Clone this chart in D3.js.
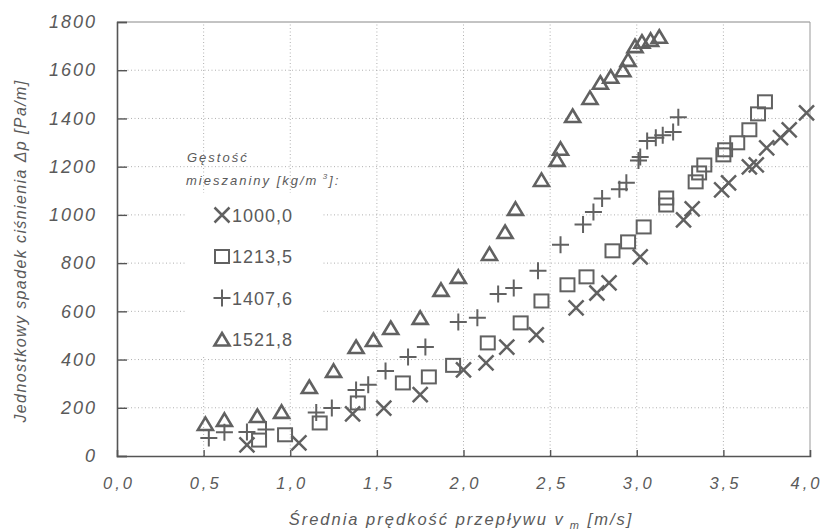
<!DOCTYPE html>
<html>
<head>
<meta charset="utf-8">
<script src="https://cdn.jsdelivr.net/npm/d3@7"></script>
<style>
  html, body { margin: 0; padding: 0; background: #fff; }
  svg { display: block; }
  text { font-family: "Liberation Sans", Arial, sans-serif; fill: #5a5a5a; }
</style>
</head>
<body>
<svg id="chart" width="826" height="532"></svg>
<script>
// Pressure gradient [Pa/m] against mean mixture velocity [m/s], one series per mixture density
const densityLabels = ["1000,0", "1213,5", "1407,6", "1521,8"];
const markerKinds   = ["cross", "square", "plus", "triangle"];

const rho1000 = [
  [0.75, 46], [1.05, 54], [1.36, 175], [1.54, 199], [1.75, 255], [2.00, 357],
  [2.13, 386], [2.25, 452], [2.42, 502], [2.65, 614], [2.77, 676], [2.84, 718],
  [3.02, 826], [3.27, 979], [3.32, 1025], [3.49, 1104], [3.53, 1133], [3.65, 1199],
  [3.69, 1207], [3.75, 1278], [3.83, 1320], [3.88, 1353], [3.98, 1423]
];
const rho1213 = [
  [0.82, 66], [0.97, 88], [1.17, 137], [1.39, 220], [1.65, 303], [1.80, 328],
  [1.94, 376], [2.14, 469], [2.33, 552], [2.45, 643], [2.60, 710], [2.71, 743],
  [2.86, 851], [2.95, 888], [3.04, 950], [3.17, 1041], [3.17, 1070], [3.34, 1137],
  [3.36, 1174], [3.39, 1207], [3.50, 1249], [3.51, 1270], [3.58, 1299], [3.65, 1353],
  [3.70, 1419], [3.74, 1469]
];
const rho1407 = [
  [0.53, 75], [0.62, 98], [0.75, 100], [0.86, 110], [1.15, 180], [1.24, 199],
  [1.38, 274], [1.45, 295], [1.55, 353], [1.68, 411], [1.78, 452], [1.97, 556],
  [2.08, 573], [2.20, 672], [2.29, 697], [2.43, 768], [2.56, 876], [2.69, 960],
  [2.75, 1012], [2.80, 1068], [2.90, 1106], [2.94, 1133], [3.01, 1226], [3.02, 1240],
  [3.06, 1306], [3.11, 1320], [3.15, 1330], [3.21, 1344], [3.24, 1405]
];
const rho1521 = [
  [0.51, 133], [0.62, 150], [0.81, 166], [0.95, 183], [1.11, 286], [1.25, 353],
  [1.38, 452], [1.48, 481], [1.58, 531], [1.75, 573], [1.87, 689], [1.97, 743],
  [2.15, 838], [2.24, 929], [2.30, 1025], [2.45, 1145], [2.54, 1228], [2.56, 1274],
  [2.63, 1410], [2.73, 1485], [2.79, 1548], [2.85, 1573], [2.92, 1600], [2.95, 1643],
  [2.99, 1700], [3.03, 1718], [3.08, 1726], [3.13, 1739]
];
const seriesValues = [rho1000, rho1213, rho1407, rho1521];

const xTickValues = [0, 0.5, 1, 1.5, 2, 2.5, 3, 3.5, 4];
const yTickValues = [0, 200, 400, 600, 800, 1000, 1200, 1400, 1600, 1800];

const svg = d3.select("#chart");
const margin = { left: 117, right: 16, top: 22, bottom: 76 };
const W = 826, H = 532;
const x = d3.scaleLinear().domain([0, 4]).range([margin.left, W - margin.right]);
const y = d3.scaleLinear().domain([0, 1800]).range([H - margin.bottom, margin.top]);

const ink = "#616161";
const fmt = d => d3.format(".1f")(d).replace(".", ",");

// dotted grid
const grid = svg.append("g");
grid.selectAll("line.v").data(xTickValues.slice(1, -1)).join("line")
  .attr("x1", d => x(d)).attr("x2", d => x(d))
  .attr("y1", y(0)).attr("y2", y(1800))
  .attr("stroke", "#b0b0b0").attr("stroke-width", 1).attr("stroke-dasharray", "1,2.5");
grid.selectAll("line.h").data(yTickValues.slice(1, -1)).join("line")
  .attr("x1", x(0)).attr("x2", x(4))
  .attr("y1", d => y(d)).attr("y2", d => y(d))
  .attr("stroke", "#b0b0b0").attr("stroke-width", 1).attr("stroke-dasharray", "1,2.5");

// frame
svg.append("line").attr("x1", x(0)).attr("x2", x(4)).attr("y1", y(1800)).attr("y2", y(1800))
  .attr("stroke", "#888").attr("stroke-width", 1);
svg.append("line").attr("x1", x(4)).attr("x2", x(4)).attr("y1", y(0)).attr("y2", y(1800))
  .attr("stroke", "#999").attr("stroke-width", 1);

// axes with inward ticks
const yAxis = svg.append("g").attr("transform", `translate(${x(0)},0)`)
  .call(d3.axisLeft(y).tickValues(yTickValues).tickSize(-10).tickPadding(20).tickFormat(d3.format("d")));
const xAxis = svg.append("g").attr("transform", `translate(0,${y(0)})`)
  .call(d3.axisBottom(x).tickValues(xTickValues).tickSize(-6).tickPadding(20).tickFormat(fmt));
[xAxis, yAxis].forEach(a => {
  a.select(".domain").attr("stroke", "#555").attr("stroke-width", 1.6);
  a.selectAll(".tick line").attr("stroke", "#555").attr("stroke-width", 1.4);
  a.selectAll(".tick text")
    .style("font-family", "'Liberation Sans', Arial, sans-serif")
    .style("font-style", "italic").style("fill", "#5a5a5a");
});
yAxis.selectAll(".tick text").style("font-size", "18px").style("letter-spacing", "2px");
xAxis.selectAll(".tick text").style("font-size", "16.5px").style("letter-spacing", "3px")
  .attr("dx", d => d === 4 ? "-4px" : "1.5px").attr("dy", "0.78em");
xAxis.selectAll(".tick").filter(d => d === 0 || d === 4).select("line").remove();

// axis titles
svg.append("text")
  .attr("transform", `translate(26,${(y(0) + y(1800)) / 2 + 12}) rotate(-90)`)
  .attr("text-anchor", "middle")
  .style("font-style", "italic").style("font-size", "16px").style("letter-spacing", "1.4px")
  .text("Jednostkowy spadek ciśnienia  Δp [Pa/m]");

const xt = svg.append("text")
  .attr("x", 461).attr("y", 525)
  .attr("text-anchor", "middle")
  .style("font-style", "italic").style("font-size", "16.5px").style("letter-spacing", "2px");
xt.append("tspan").text("Średnia prędkość przepływu v");
xt.append("tspan").attr("dy", 4).style("font-size", "11px").text(" m");
xt.append("tspan").attr("dy", -4).text("  [m/s]");

// marker shapes
function drawMarker(g, kind) {
  if (kind === "cross") {
    const s = 7.5;
    g.append("path").attr("d", `M${-s},${-s}L${s},${s}M${-s},${s}L${s},${-s}`)
      .attr("stroke", ink).attr("stroke-width", 2.5).attr("fill", "none");
  } else if (kind === "square") {
    g.append("rect").attr("x", -7).attr("y", -6.5).attr("width", 14).attr("height", 13)
      .attr("stroke", ink).attr("stroke-width", 2).attr("fill", "none");
  } else if (kind === "plus") {
    g.append("path").attr("d", "M-8.5,0L8.5,0M0,-8.5L0,8.5")
      .attr("stroke", ink).attr("stroke-width", 2).attr("fill", "none");
  } else {
    g.append("path").attr("d", "M0,-6.5L7.5,6L-7.5,6Z")
      .attr("stroke", ink).attr("stroke-width", 2.6).attr("stroke-linejoin", "miter").attr("fill", "none");
  }
}

// legend panel (covers grid behind it)
const lg = svg.append("g");
lg.append("rect").attr("x", 186).attr("y", 193).attr("width", 136).attr("height", 164).attr("fill", "#fff");
lg.append("text").attr("x", 187).attr("y", 162)
  .style("font-style", "italic").style("font-size", "13px").style("letter-spacing", "2px")
  .text("Gęstość");
const lt = lg.append("text").attr("x", 186).attr("y", 185)
  .style("font-style", "italic").style("font-size", "13px").style("letter-spacing", "2px");
lt.append("tspan").text("mieszaniny [kg/m");
lt.append("tspan").attr("dy", -6).style("font-size", "8px").text(" 3");
lt.append("tspan").attr("dy", 6).text("]:");

densityLabels.forEach((lab, i) => {
  const cy = 215 + i * 41.5;
  const mg = lg.append("g").attr("transform", `translate(222,${cy})`);
  drawMarker(mg, markerKinds[i]);
  lg.append("text").attr("x", 232).attr("y", cy + 6.5)
    .style("font-size", "18px").style("letter-spacing", "1px").text(lab);
});

// data points
seriesValues.forEach((vals, i) => {
  svg.append("g").selectAll("g").data(vals).join("g")
    .attr("transform", d => `translate(${x(d[0])},${y(d[1])})`)
    .each(function () { drawMarker(d3.select(this), markerKinds[i]); });
});
</script>
</body>
</html>
